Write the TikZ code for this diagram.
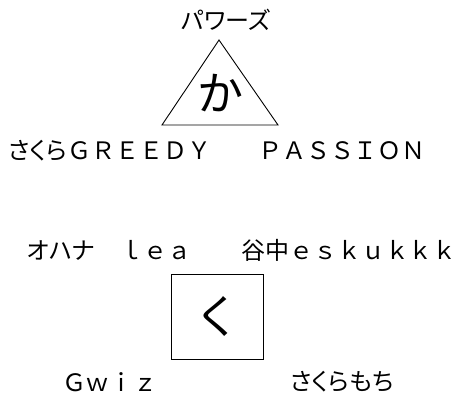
\documentclass[tikz,border=0pt]{standalone}
\usepackage{fontspec}
\setmainfont{Noto Sans CJK JP}
\newfontfamily\kana[RawFeature=+palt]{Noto Sans CJK JP}
\usepackage{tikz}
\tikzset{
    tag/.style={inner sep=0pt, font=\fontsize{24pt}{26pt}\selectfont},
    glyph/.style={inner sep=0pt, font=\fontsize{46pt}{48pt}\selectfont},
    frame/.style={draw=black, line width=0.9pt}
}
\begin{document}
\begin{tikzpicture}[x=1pt, y=-1pt]
    \useasboundingbox (0,0) rectangle (456,396);

    % triangle block
    \draw[frame, line join=miter] (219,40) -- (162,125) -- (278,125) -- cycle;
    \node[glyph] (ka) at (220.5,93) {か};
    \node[tag] (powers) at (226,20) {{\kana パワーズ}};
    \node[tag] (greedy) at (110,151) {{\kana さくら}ＧＲＥＥＤＹ};
    \node[tag] (passion) at (342,151) {ＰＡＳＳＩＯＮ};

    % square block
    \node[frame, glyph, minimum width=92pt, minimum height=85pt] (ku) at (217,316.5) {く};
    \node[tag] (ohana) at (109,250) {{\kana オハナ}　ｌｅａ};
    \node[tag] (yanaka) at (349,250) {{\kana 谷中}ｅｓｋｕｋｋｋ};
    \node[tag] (gwiz) at (110,382) {Ｇｗｉｚ};
    \node[tag] (mochi) at (342,382) {{\kana さくらもち}};
\end{tikzpicture}
\end{document}
